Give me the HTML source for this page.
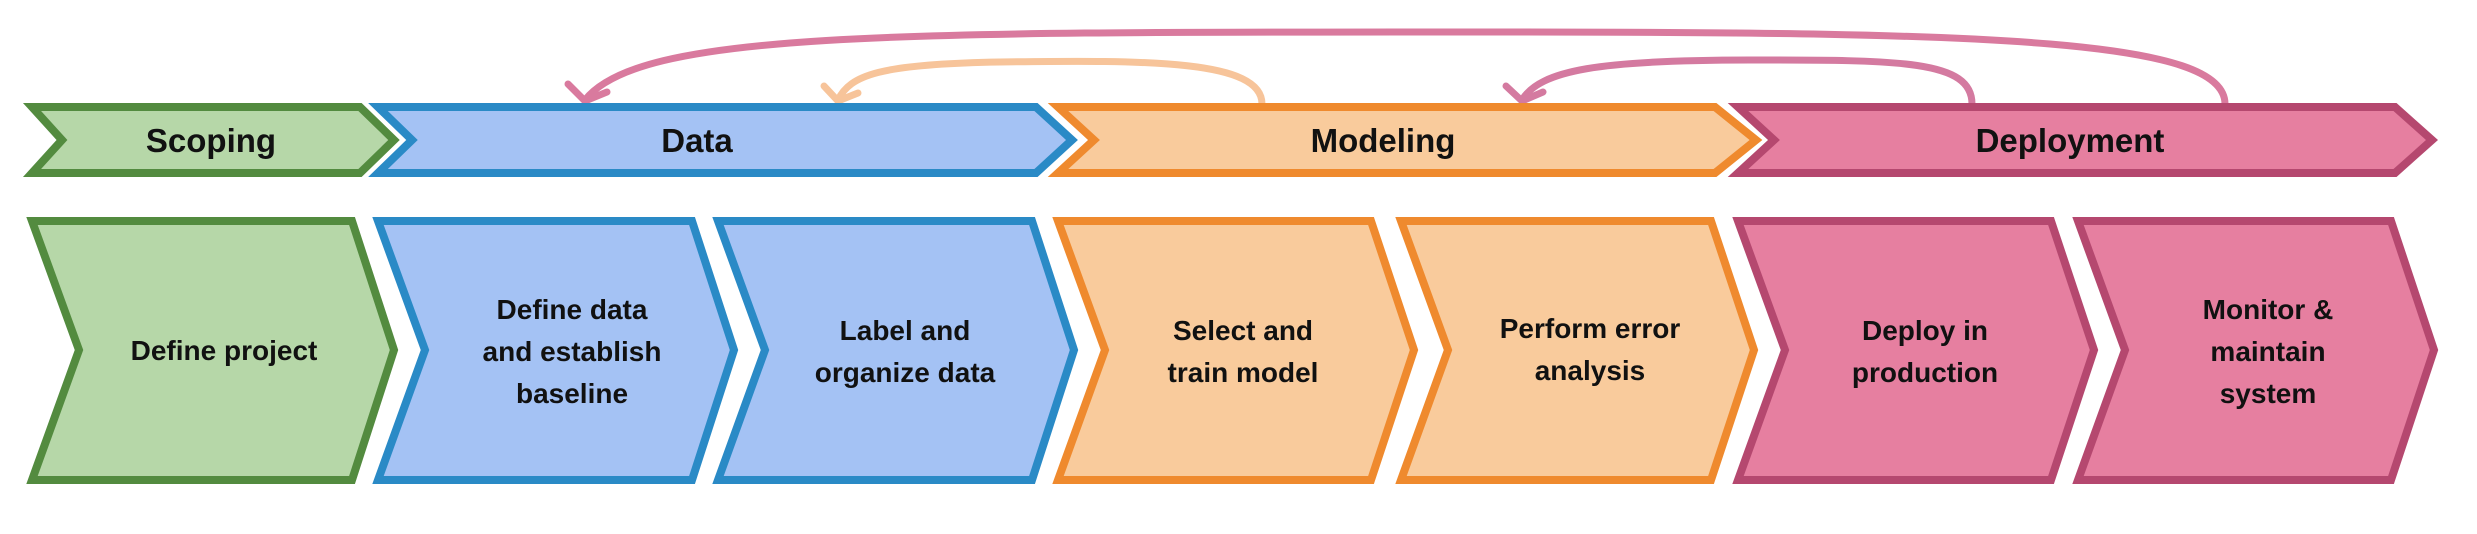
<!DOCTYPE html>
<html><head><meta charset="utf-8"><style>
html,body{margin:0;padding:0;background:#fff;}
svg{display:block;}
text{font-family:"Liberation Sans",Arial,sans-serif;font-weight:bold;fill:#111;text-anchor:middle;}
</style></head><body>
<svg width="2477" height="534" viewBox="0 0 2477 534" xmlns="http://www.w3.org/2000/svg">
<g fill="none" stroke-width="7" stroke-linecap="round" stroke-linejoin="round">
  <path d="M2225,104 C2225,40 2000,32 1500,32 C900,32 640,30 585,100" stroke="#d97a9e"/>
  <path d="M568,84 L585,101 L607,92" stroke="#d97a9e"/>
  <path d="M1262,104 C1262,60 1150,60 1000,62 C880,64 850,75 838,100" stroke="#f7c49a"/>
  <path d="M824,86 L838,101 L858,93" stroke="#f7c49a"/>
  <path d="M1972,104 C1972,60 1900,60 1750,60 C1600,60 1540,70 1522,100" stroke="#d47aa0"/>
  <path d="M1506,86 L1522,101 L1543,92" stroke="#d47aa0"/>
</g>
<g stroke-width="8" stroke-linejoin="miter">
  <polygon points="32,107 360,107 394,140 360,173 32,173 62,140" fill="#b6d7a8" stroke="#538b3f"/>
  <polygon points="378,107 1036,107 1072,140 1036,173 378,173 412,140" fill="#a4c2f4" stroke="#2a8ac6"/>
  <polygon points="1058,107 1715,107 1756,140 1715,173 1058,173 1094,140" fill="#f9cb9c" stroke="#ef8a2e"/>
  <polygon points="1738,107 2395,107 2432,140 2395,173 1738,173 1774,140" fill="#e67fa0" stroke="#b5486f"/>

  <polygon points="32,221 352,221 394,350 352,480 32,480 79,350" fill="#b6d7a8" stroke="#538b3f"/>
  <polygon points="378,221 692,221 734,350 692,480 378,480 425,350" fill="#a4c2f4" stroke="#2a8ac6"/>
  <polygon points="718,221 1032,221 1074,350 1032,480 718,480 765,350" fill="#a4c2f4" stroke="#2a8ac6"/>
  <polygon points="1058,221 1371,221 1414,350 1371,480 1058,480 1105,350" fill="#f9cb9c" stroke="#ef8a2e"/>
  <polygon points="1401,221 1711,221 1754,350 1711,480 1401,480 1448,350" fill="#f9cb9c" stroke="#ef8a2e"/>
  <polygon points="1738,221 2051,221 2094,350 2051,480 1738,480 1785,350" fill="#e67fa0" stroke="#b5486f"/>
  <polygon points="2078,221 2391,221 2434,350 2391,480 2078,480 2125,350" fill="#e67fa0" stroke="#b5486f"/>
</g>
<g font-size="33">
  <text x="211" y="152">Scoping</text>
  <text x="697" y="152">Data</text>
  <text x="1383" y="152">Modeling</text>
  <text x="2070" y="152">Deployment</text>
</g>
<g font-size="28">
  <text x="224" y="360">Define project</text>
  <text x="572" y="319">Define data</text>
  <text x="572" y="361">and establish</text>
  <text x="572" y="403">baseline</text>
  <text x="905" y="340">Label and</text>
  <text x="905" y="382">organize data</text>
  <text x="1243" y="340">Select and</text>
  <text x="1243" y="382">train model</text>
  <text x="1590" y="338">Perform error</text>
  <text x="1590" y="380">analysis</text>
  <text x="1925" y="340">Deploy in</text>
  <text x="1925" y="382">production</text>
  <text x="2268" y="319">Monitor &amp;</text>
  <text x="2268" y="361">maintain</text>
  <text x="2268" y="403">system</text>
</g>
</svg>
</body></html>
